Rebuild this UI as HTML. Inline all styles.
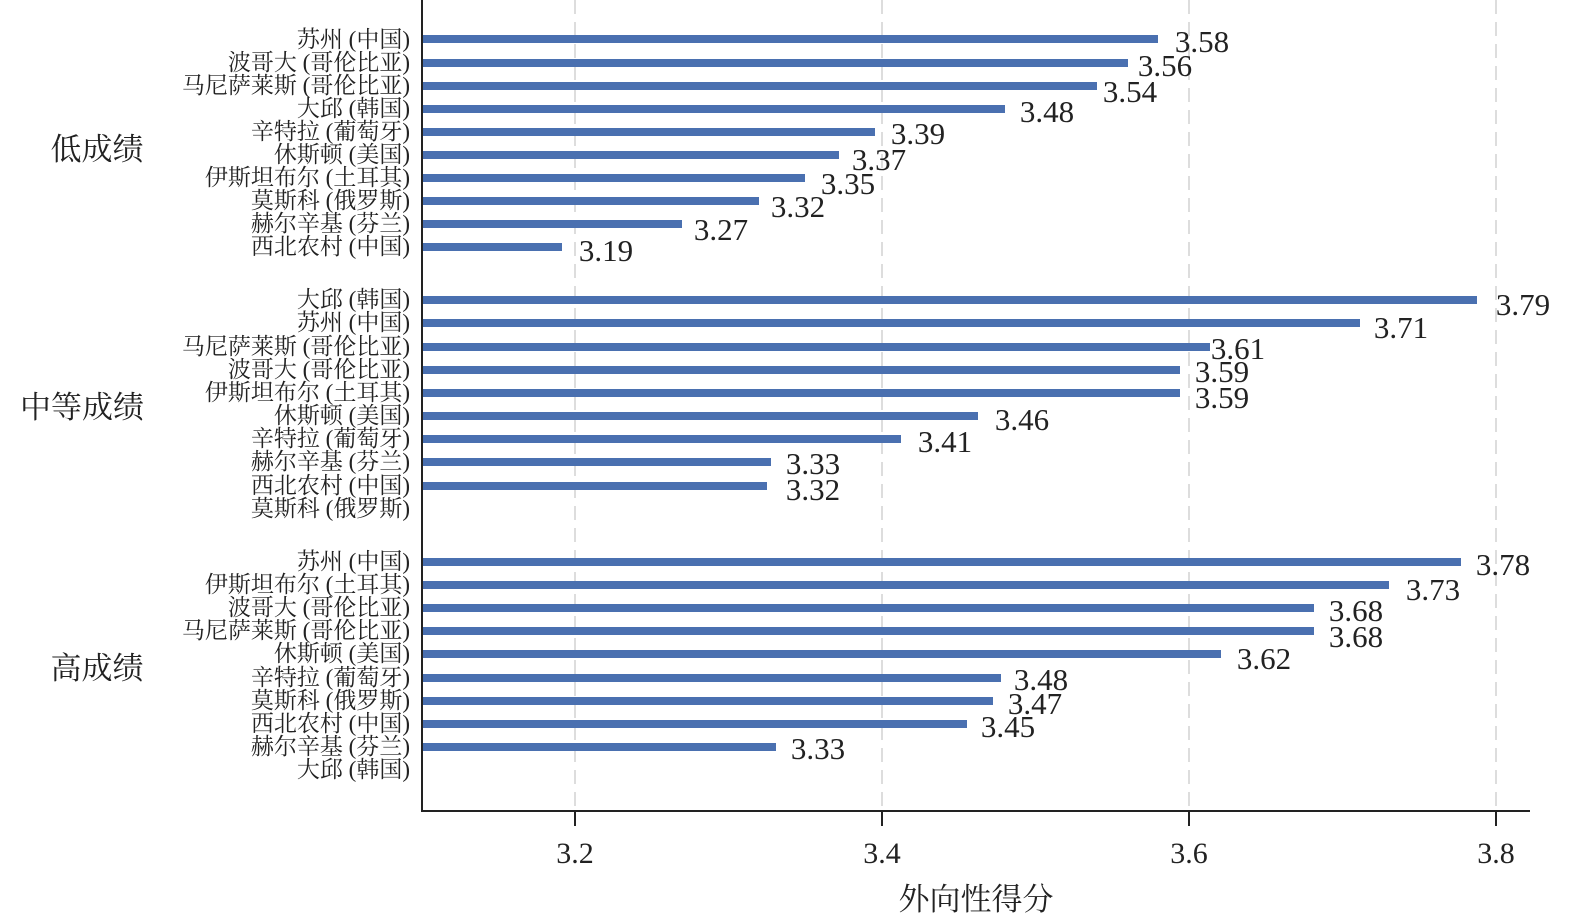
<!DOCTYPE html><html><head><meta charset="utf-8"><style>body{margin:0;background:#fff}svg{display:block}</style></head><body>
<svg width="1575" height="924" xmlns="http://www.w3.org/2000/svg" font-family="'Liberation Serif','Noto Serif CJK SC',serif">
<g stroke="#ddd" stroke-width="2" stroke-dasharray="14,8">
<line x1="575" y1="0" x2="575" y2="810"/><line x1="882" y1="0" x2="882" y2="810"/><line x1="1189" y1="0" x2="1189" y2="810"/><line x1="1496" y1="0" x2="1496" y2="810"/></g>
<g fill="#4a70b0">
<rect x="422" y="35" width="736" height="8"/><rect x="422" y="59" width="706" height="8"/><rect x="422" y="82" width="675" height="8"/><rect x="422" y="105" width="583" height="8"/><rect x="422" y="128" width="453" height="8"/><rect x="422" y="151" width="417" height="8"/><rect x="422" y="174" width="383" height="8"/><rect x="422" y="197" width="337" height="8"/><rect x="422" y="220" width="260" height="8"/><rect x="422" y="243" width="140" height="8"/>
<rect x="422" y="296" width="1055" height="8"/><rect x="422" y="319" width="938" height="8"/><rect x="422" y="343" width="788" height="8"/><rect x="422" y="366" width="758" height="8"/><rect x="422" y="389" width="758" height="8"/><rect x="422" y="412" width="556" height="8"/><rect x="422" y="435" width="479" height="8"/><rect x="422" y="458" width="349" height="8"/><rect x="422" y="482" width="345" height="8"/>
<rect x="422" y="558" width="1039" height="8"/><rect x="422" y="581" width="967" height="8"/><rect x="422" y="604" width="892" height="8"/><rect x="422" y="627" width="892" height="8"/><rect x="422" y="650" width="799" height="8"/><rect x="422" y="674" width="579" height="8"/><rect x="422" y="697" width="571" height="8"/><rect x="422" y="720" width="545" height="8"/><rect x="422" y="743" width="354" height="8"/>
</g>
<g stroke="#222" stroke-width="2" fill="none"><line x1="422" y1="0" x2="422" y2="811"/><line x1="421" y1="811" x2="1530" y2="811"/>
<line x1="575" y1="811" x2="575" y2="826"/><line x1="882" y1="811" x2="882" y2="826"/><line x1="1189" y1="811" x2="1189" y2="826"/><line x1="1496" y1="811" x2="1496" y2="826"/></g>
<g font-size="30" fill="#222" text-anchor="middle"><text x="575" y="863">3.2</text><text x="882" y="863">3.4</text><text x="1189" y="863">3.6</text><text x="1496" y="863">3.8</text></g>
<text x="976" y="910" font-size="31" text-anchor="middle" fill="#222">外向性得分</text>
<g font-size="23" fill="#222" text-anchor="end">
<text x="410" y="47">苏州 (中国)</text><text x="410" y="70">波哥大 (哥伦比亚)</text><text x="410" y="93">马尼萨莱斯 (哥伦比亚)</text><text x="410" y="116">大邱 (韩国)</text><text x="410" y="139">辛特拉 (葡萄牙)</text><text x="410" y="162">休斯顿 (美国)</text><text x="410" y="185">伊斯坦布尔 (土耳其)</text><text x="410" y="208">莫斯科 (俄罗斯)</text><text x="410" y="231">赫尔辛基 (芬兰)</text><text x="410" y="254">西北农村 (中国)</text>
<text x="410" y="307">大邱 (韩国)</text><text x="410" y="330">苏州 (中国)</text><text x="410" y="354">马尼萨莱斯 (哥伦比亚)</text><text x="410" y="377">波哥大 (哥伦比亚)</text><text x="410" y="400">伊斯坦布尔 (土耳其)</text><text x="410" y="423">休斯顿 (美国)</text><text x="410" y="446">辛特拉 (葡萄牙)</text><text x="410" y="469">赫尔辛基 (芬兰)</text><text x="410" y="493">西北农村 (中国)</text><text x="410" y="516">莫斯科 (俄罗斯)</text>
<text x="410" y="569">苏州 (中国)</text><text x="410" y="592">伊斯坦布尔 (土耳其)</text><text x="410" y="615">波哥大 (哥伦比亚)</text><text x="410" y="638">马尼萨莱斯 (哥伦比亚)</text><text x="410" y="661">休斯顿 (美国)</text><text x="410" y="685">辛特拉 (葡萄牙)</text><text x="410" y="708">莫斯科 (俄罗斯)</text><text x="410" y="731">西北农村 (中国)</text><text x="410" y="754">赫尔辛基 (芬兰)</text><text x="410" y="777">大邱 (韩国)</text>
</g>
<g font-size="31" fill="#222" text-anchor="middle"><text x="97" y="160">低成绩</text><text x="82" y="418">中等成绩</text><text x="97" y="679">高成绩</text></g>
<g font-size="31" fill="#222" text-anchor="middle">
<text x="1202" y="52">3.58</text><text x="1165" y="76">3.56</text><text x="1130" y="102">3.54</text><text x="1047" y="122">3.48</text><text x="918" y="144">3.39</text><text x="879" y="170">3.37</text><text x="848" y="194">3.35</text><text x="798" y="217">3.32</text><text x="721" y="240">3.27</text><text x="606" y="261">3.19</text>
<text x="1523" y="315">3.79</text><text x="1401" y="338">3.71</text><text x="1238" y="359">3.61</text><text x="1222" y="382">3.59</text><text x="1222" y="408">3.59</text><text x="1022" y="430">3.46</text><text x="945" y="452">3.41</text><text x="813" y="474">3.33</text><text x="813" y="500">3.32</text>
<text x="1503" y="575">3.78</text><text x="1433" y="600">3.73</text><text x="1356" y="621">3.68</text><text x="1356" y="647">3.68</text><text x="1264" y="669">3.62</text><text x="1041" y="690">3.48</text><text x="1035" y="714">3.47</text><text x="1008" y="737">3.45</text><text x="818" y="759">3.33</text>
</g>
</svg></body></html>
